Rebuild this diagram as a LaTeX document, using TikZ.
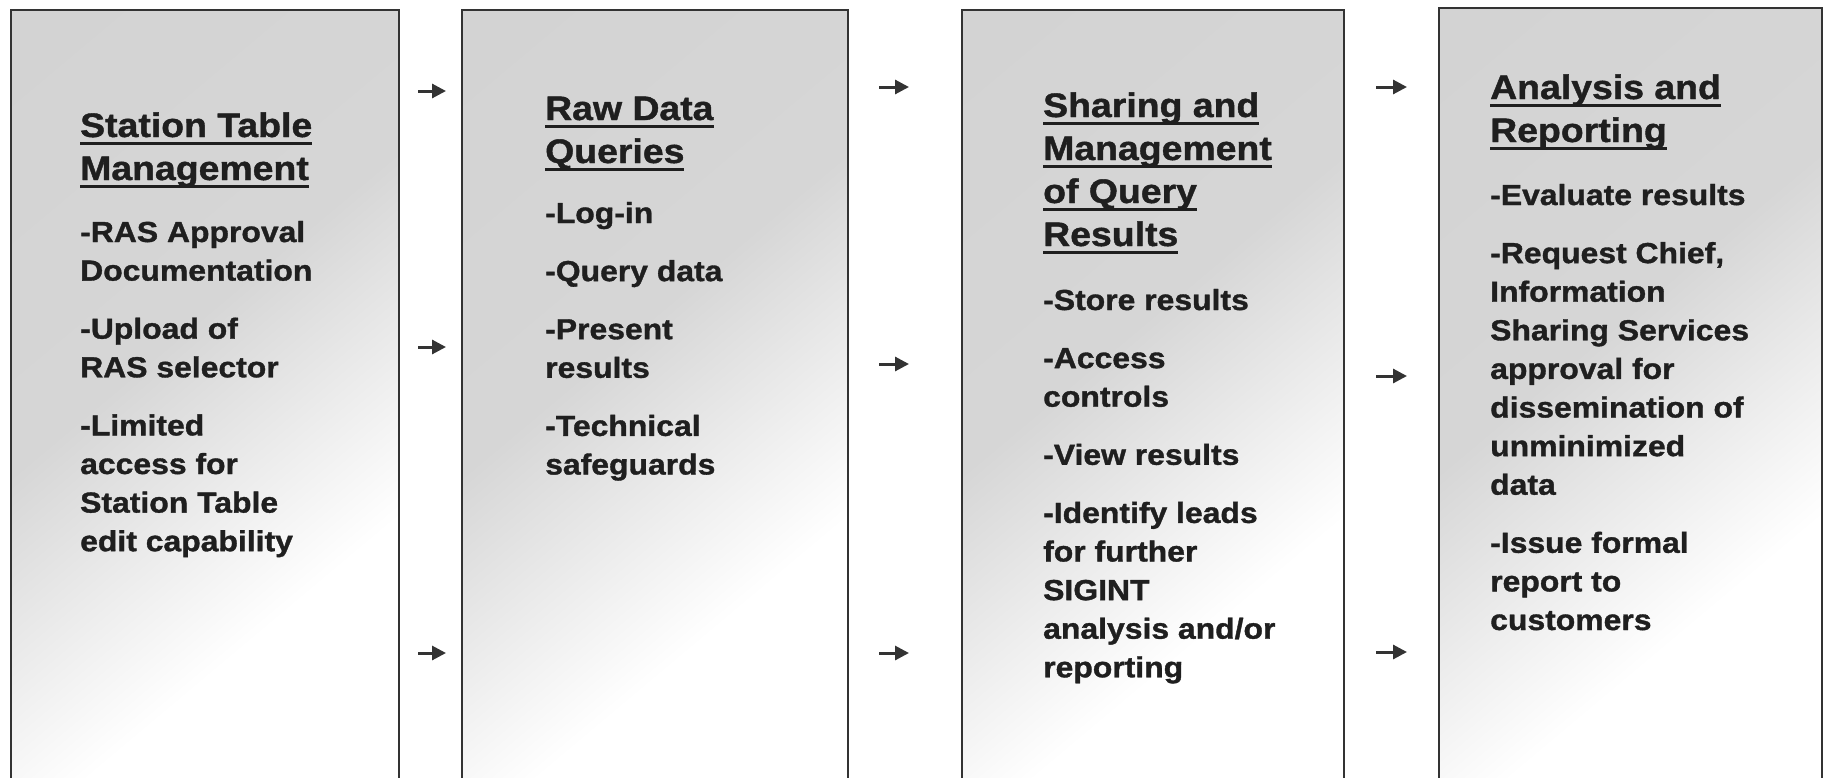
\documentclass[tikz,border=0pt]{standalone}
\usepackage{fontspec}
\setmainfont{Liberation Sans}[FakeStretch=1.1, BoldFeatures={FakeBold=1.2}]
\usetikzlibrary{arrows.meta}
\pgfdeclareverticalshading{paper}{100bp}{color(0bp)=(white); color(33bp)=(white); color(56bp)=(black!16); color(100bp)=(black!18)}
\newsavebox{\hdbox}
\newcommand{\hdline}[1]{\sbox{\hdbox}{#1}\rlap{\rule[-8pt]{\wd\hdbox}{3.5pt}}\usebox{\hdbox}}
\newcommand{\rows}[1]{\begin{tabular}[t]{@{}l@{}}#1\end{tabular}}
\tikzset{
  stage/.style={draw=black!80, line width=2.2pt, anchor=north west, inner sep=0pt,
    minimum height=800pt, shade, shading=paper, shading angle=40},
  head/.style={anchor=base west, inner sep=0pt, text=black!88,
    font=\bfseries\fontsize{34}{43}\selectfont},
  items/.style={anchor=base west, inner sep=0pt, text=black!88,
    font=\bfseries\fontsize{29}{38.6}\selectfont},
  flow/.style={draw=black!80, line width=3pt, -{Triangle[length=14pt,width=14pt]}}
}
\begin{document}
\begin{tikzpicture}[x=1pt, y=-1pt]
                        \useasboundingbox (0, 0) rectangle (1826, 777);
                        \clip (0, 0) rectangle (1826, 777);
                        \node [stage, minimum width=388pt] (b1) at (10, 9) {};
                        \node [stage, minimum width=386pt] (b2) at (461, 9) {};
                        \node [stage, minimum width=382pt] (b3) at (961, 9) {};
                        \node [stage, minimum width=383pt] (b4) at (1438, 7) {};
                        \node [head] (h1) at (80, 137) {\rows{\hdline{Station Table}\\ \hdline{Management}}};
                        \node [items] (l1) at (80, 242) {\rows{-RAS Approval\\ Documentation\\[19.5pt]
                            -Upload of\\ RAS selector\\[19.5pt]
                            -Limited\\ access for\\ Station Table\\ edit capability}};
                        \node [head] (h2) at (545, 120) {\rows{\hdline{Raw Data}\\ \hdline{Queries}}};
                        \node [items] (l2) at (545, 223) {\rows{-Log-in\\[19.5pt]
                            -Query data\\[19.5pt]
                            -Present\\ results\\[19.5pt]
                            -Technical\\ safeguards}};
                        \node [head] (h3) at (1043, 117) {\rows{\hdline{Sharing and}\\ \hdline{Management}\\ \hdline{of Query}\\ \hdline{Results}}};
                        \node [items] (l3) at (1043, 310) {\rows{-Store results\\[19.5pt]
                            -Access\\ controls\\[19.5pt]
                            -View results\\[19.5pt]
                            -Identify leads\\ for further\\ SIGINT\\ analysis and/or\\ reporting}};
                        \node [head] (h4) at (1490, 99) {\rows{\hdline{Analysis and}\\ \hdline{Reporting}}};
                        \node [items] (l4) at (1490, 205) {\rows{-Evaluate results\\[19.5pt]
                            -Request Chief,\\ Information\\ Sharing Services\\ approval for\\ dissemination of\\ unminimized\\ data\\[19.5pt]
                            -Issue formal\\ report to\\ customers}};
                        \draw [flow, shorten <=18pt, shorten >=15pt] (b1.east |- 0, 91) -- (b2.west |- 0, 91);
                        \draw [flow, shorten <=18pt, shorten >=15pt] (b1.east |- 0, 347) -- (b2.west |- 0, 347);
                        \draw [flow, shorten <=18pt, shorten >=15pt] (b1.east |- 0, 653) -- (b2.west |- 0, 653);
                        \draw [flow, shorten <=30pt, shorten >=52pt] (b2.east |- 0, 87) -- (b3.west |- 0, 87);
                        \draw [flow, shorten <=30pt, shorten >=52pt] (b2.east |- 0, 364) -- (b3.west |- 0, 364);
                        \draw [flow, shorten <=30pt, shorten >=52pt] (b2.east |- 0, 653) -- (b3.west |- 0, 653);
                        \draw [flow, shorten <=31pt, shorten >=31pt] (b3.east |- 0, 87) -- (b4.west |- 0, 87);
                        \draw [flow, shorten <=31pt, shorten >=31pt] (b3.east |- 0, 376) -- (b4.west |- 0, 376);
                        \draw [flow, shorten <=31pt, shorten >=31pt] (b3.east |- 0, 652) -- (b4.west |- 0, 652);
\end{tikzpicture}
\end{document}
